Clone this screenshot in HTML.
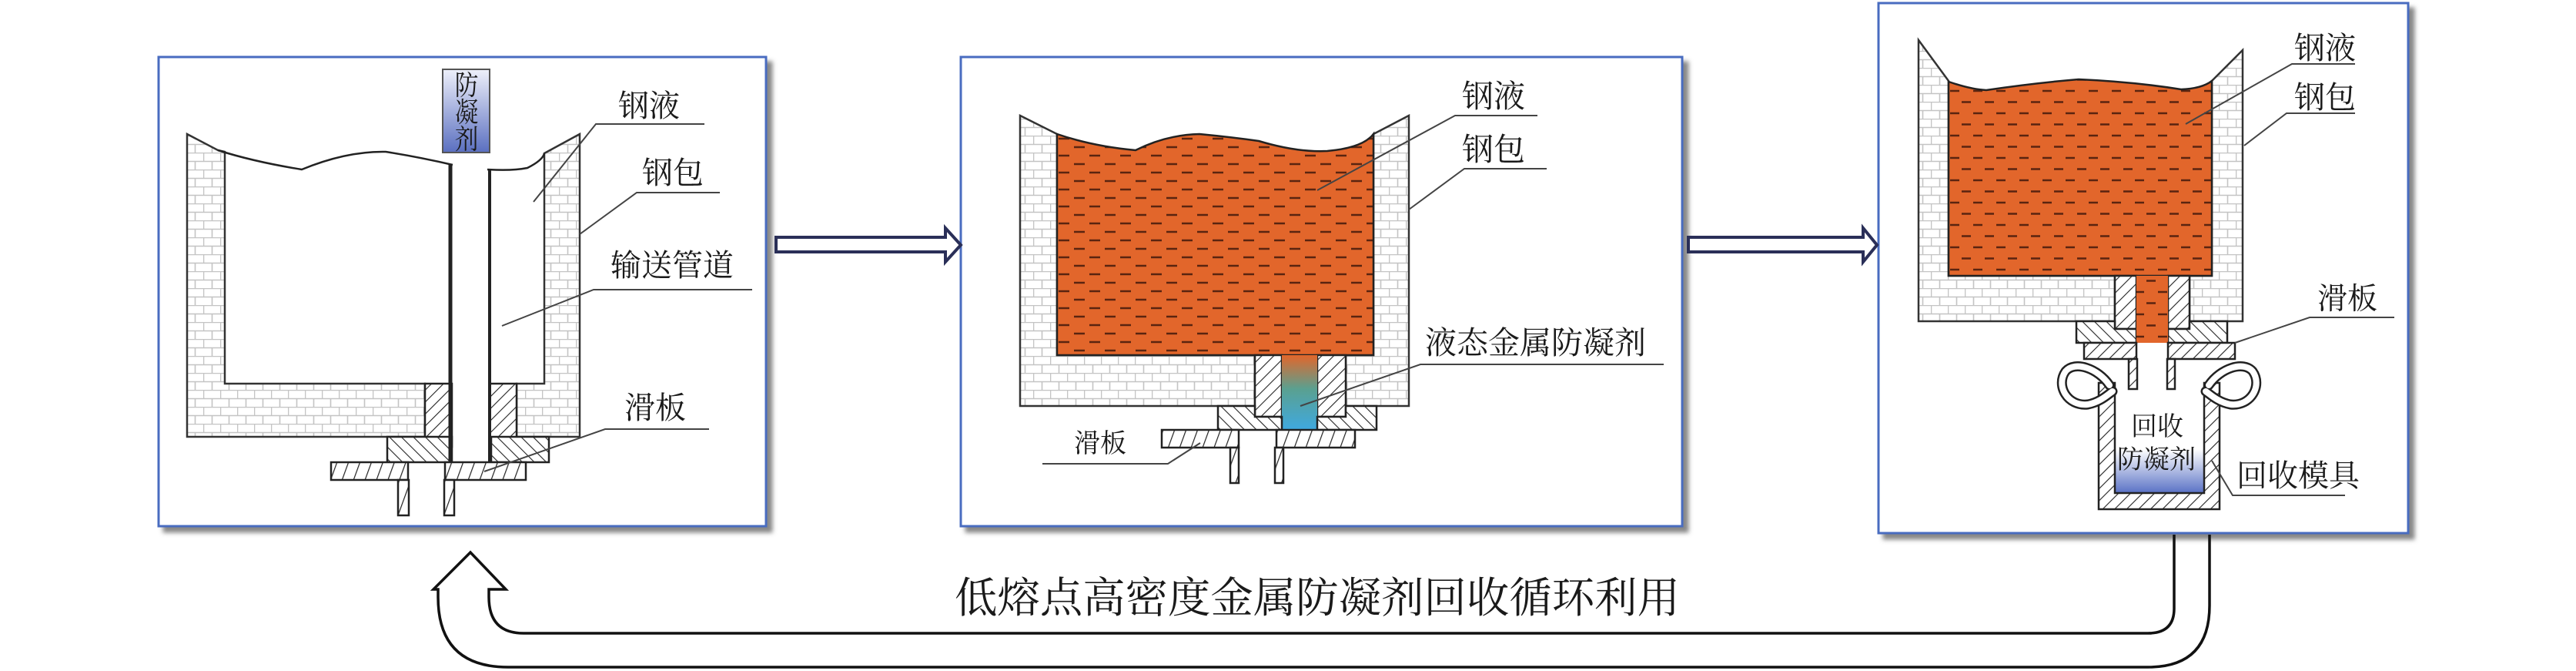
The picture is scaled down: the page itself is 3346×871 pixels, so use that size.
<!DOCTYPE html>
<html><head><meta charset="utf-8">
<style>
html,body{margin:0;padding:0;background:#fff;}
svg{display:block;}
text{font-family:"Liberation Serif","Noto Serif CJK SC","Noto Sans CJK SC",serif;fill:#1a1a1a;}
</style></head>
<body>
<svg width="3346" height="871" viewBox="0 0 3346 871" xmlns="http://www.w3.org/2000/svg">
<defs>
<pattern id="brick" patternUnits="userSpaceOnUse" width="22" height="22">
<rect width="22" height="22" fill="#fff"/>
<path d="M0,0.5H22M0,11.5H22M0.5,0V11M11.5,11V22" stroke="#c4c4c4" stroke-width="1.6" fill="none"/>
</pattern>
<pattern id="hatch" patternUnits="userSpaceOnUse" width="11" height="11" patternTransform="rotate(45)">
<rect width="11" height="11" fill="#fff"/>
<line x1="0" y1="0" x2="0" y2="11" stroke="#222" stroke-width="2.2"/>
</pattern>
<pattern id="hatch2" patternUnits="userSpaceOnUse" width="11" height="11" patternTransform="rotate(-45)">
<rect width="11" height="11" fill="#fff"/>
<line x1="0" y1="0" x2="0" y2="11" stroke="#222" stroke-width="2.2"/>
</pattern>
<pattern id="hatch3" patternUnits="userSpaceOnUse" width="14" height="14" patternTransform="rotate(20)">
<rect width="14" height="14" fill="#fff"/>
<line x1="0" y1="0" x2="0" y2="14" stroke="#222" stroke-width="2.4"/>
</pattern>
<pattern id="liq2" patternUnits="userSpaceOnUse" x="1373" y="178" width="40" height="22">
<rect width="40" height="22" fill="#e2662b"/>
<path d="M2,2H16M22,13H36" stroke="#5a2410" stroke-width="2.6"/>
</pattern>
<pattern id="liq3" patternUnits="userSpaceOnUse" x="2531" y="112" width="30" height="29">
<rect width="30" height="29" fill="#e2662b"/>
<path d="M2,6H14M17,20.5H29" stroke="#5a2410" stroke-width="2.4"/>
</pattern>
<linearGradient id="gbox" x1="0" y1="0" x2="0" y2="1">
<stop offset="0" stop-color="#eef0fa"/><stop offset="1" stop-color="#5a6fc0"/>
</linearGradient>
<linearGradient id="gchan" x1="0" y1="0" x2="0" y2="1">
<stop offset="0" stop-color="#e2662b"/><stop offset="0.45" stop-color="#5aa090"/><stop offset="1" stop-color="#3fa9e0"/>
</linearGradient>
<linearGradient id="gmold" x1="0" y1="0" x2="0" y2="1">
<stop offset="0" stop-color="#ffffff"/><stop offset="1" stop-color="#5a72c6"/>
</linearGradient>
<filter id="sh" x="-5%" y="-5%" width="115%" height="115%">
<feDropShadow dx="7" dy="7" stdDeviation="3" flood-color="#555" flood-opacity="0.7"/>
</filter>
</defs>

<!-- Panels -->
<rect x="206" y="74" width="789" height="609" fill="#fff" stroke="#4a6cc0" stroke-width="3" filter="url(#sh)"/>
<rect x="1248" y="74" width="937" height="609" fill="#fff" stroke="#4a6cc0" stroke-width="3" filter="url(#sh)"/>
<rect x="2440" y="4" width="688" height="688" fill="#fff" stroke="#4a6cc0" stroke-width="3" filter="url(#sh)"/>

<!-- Arrows between panels -->
<g fill="#fff" stroke="#2a2f58" stroke-width="4" stroke-linejoin="miter">
<path d="M1008,308 H1228 V296 L1248,318 L1228,340 V327 H1008 Z"/>
<path d="M2193,308 H2420 V296 L2438,318 L2420,340 V327 H2193 Z"/>
</g>

<!-- ===== Panel 1 ===== -->
<path d="M243,174 L283,195 L292,197 L292,498 L552,498 L552,567 L243,567 Z" fill="url(#brick)" stroke="#333" stroke-width="2.5"/>
<path d="M753,174 L707,199 L707,498 L671,498 L671,567 L753,567 Z" fill="url(#brick)" stroke="#333" stroke-width="2.5"/>
<path d="M283,195 Q330,210 392,220 Q450,196 501,197 Q545,204 588,214" fill="none" stroke="#222" stroke-width="2.5"/>
<path d="M633,220 Q665,222 685,218 Q705,208 707,199" fill="none" stroke="#222" stroke-width="2.5"/>
<rect x="552" y="498" width="35" height="82" fill="url(#hatch)" stroke="#222" stroke-width="2.5"/>
<rect x="636" y="498" width="35" height="82" fill="url(#hatch)" stroke="#222" stroke-width="2.5"/>
<path d="M503,567 H587 V600 H503 Z M638,567 H713 V600 H638 Z" fill="url(#hatch2)" stroke="#222" stroke-width="2.5"/>
<path d="M430,600 H530 V623 H430 Z M578,600 H683 V623 H578 Z" fill="url(#hatch3)" stroke="#222" stroke-width="2.5"/>
<rect x="517" y="623" width="14" height="46" fill="url(#hatch3)" stroke="#222" stroke-width="2.5"/>
<rect x="577" y="623" width="13" height="46" fill="url(#hatch3)" stroke="#222" stroke-width="2.5"/>
<line x1="585" y1="214" x2="585" y2="600" stroke="#222" stroke-width="5"/>
<line x1="636" y1="220" x2="636" y2="600" stroke="#222" stroke-width="4"/>
<rect x="575" y="90" width="61" height="108" fill="url(#gbox)" stroke="#555" stroke-width="2"/>
<g transform="translate(606,0) scale(0.85,1)" text-anchor="middle"><text x="0" y="123" font-size="36">防</text><text x="0" y="158" font-size="36">凝</text><text x="0" y="193" font-size="36">剂</text></g>
<g fill="none" stroke="#444" stroke-width="2">
<path d="M915,161 H774 L693,262"/>
<path d="M935,250 H827 L753,304"/>
<path d="M977,376 H771 L652,423"/>
<path d="M921,557 H786 L629,612"/>
</g>
<text x="803" y="151" font-size="40">钢液</text>
<text x="834" y="238" font-size="40">钢包</text>
<text x="793" y="358" font-size="40">输送管道</text>
<text x="811" y="543" font-size="40">滑板</text>

<!-- ===== Panel 2 ===== -->
<path d="M1325,150 L1373,174 L1373,461 L1630,461 L1630,527 L1325,527 Z" fill="url(#brick)" stroke="#333" stroke-width="2.5"/>
<path d="M1830,150 L1784,174 L1784,461 L1748,461 L1748,527 L1830,527 Z" fill="url(#brick)" stroke="#333" stroke-width="2.5"/>
<path d="M1373,174 Q1420,190 1475,195 Q1515,175 1558,174 Q1600,178 1635,183 Q1685,198 1724,196 Q1770,192 1784,174 L1784,461 L1373,461 Z" fill="url(#liq2)" stroke="#222" stroke-width="2.5"/>
<rect x="1630" y="461" width="35" height="80" fill="url(#hatch)" stroke="#222" stroke-width="2.5"/>
<rect x="1711" y="461" width="37" height="80" fill="url(#hatch)" stroke="#222" stroke-width="2.5"/>
<rect x="1665" y="461" width="46" height="97" fill="url(#gchan)"/>
<path d="M1582,527 H1630 V541 H1665 V558 H1582 Z M1711,541 H1748 V527 H1788 V558 H1711 Z" fill="url(#hatch2)" stroke="#222" stroke-width="2.5"/>
<path d="M1509,558 H1609 V581 H1509 Z M1658,558 H1760 V581 H1658 Z" fill="url(#hatch3)" stroke="#222" stroke-width="2.5"/>
<rect x="1598" y="581" width="11" height="46" fill="url(#hatch3)" stroke="#222" stroke-width="2.5"/>
<rect x="1656" y="581" width="11" height="46" fill="url(#hatch3)" stroke="#222" stroke-width="2.5"/>
<g fill="none" stroke="#444" stroke-width="2">
<path d="M1997,150 H1890 L1711,247"/>
<path d="M2009,219 H1902 L1830,272"/>
<path d="M2161,473 H1845 L1689,527"/>
<path d="M1354,602 H1517 L1559,575"/>
</g>
<text x="1899" y="139" font-size="41">钢液</text>
<text x="1899" y="208" font-size="41">钢包</text>
<text x="1851" y="459" font-size="41">液态金属防凝剂</text>
<text x="1395" y="587" font-size="34">滑板</text>

<!-- ===== Panel 3 ===== -->
<path d="M2492,52 L2531,105 L2531,358 L2747,358 L2747,417 L2492,417 Z" fill="url(#brick)" stroke="#333" stroke-width="2.5"/>
<path d="M2913,65 L2873,105 L2873,358 L2844,358 L2844,417 L2913,417 Z" fill="url(#brick)" stroke="#333" stroke-width="2.5"/>
<path d="M2531,106 Q2560,116 2580,117 Q2640,108 2700,103 Q2770,106 2833,116 Q2860,115 2873,105 L2873,358 L2531,358 Z" fill="url(#liq3)" stroke="#222" stroke-width="2.5"/>
<rect x="2747" y="358" width="28" height="69" fill="url(#hatch)" stroke="#222" stroke-width="2.5"/>
<rect x="2816" y="358" width="28" height="69" fill="url(#hatch)" stroke="#222" stroke-width="2.5"/>
<path d="M2697,417 H2747 V427 H2775 V445 H2697 Z M2816,427 H2844 V417 H2893 V445 H2816 Z" fill="url(#hatch2)" stroke="#222" stroke-width="2.5"/>
<rect x="2775" y="358" width="41" height="87" fill="url(#liq3)"/>
<path d="M2707,445 H2775 V466 H2707 Z M2816,445 H2903 V466 H2816 Z" fill="url(#hatch)" stroke="#222" stroke-width="2.5"/>
<rect x="2765" y="466" width="11" height="39" fill="url(#hatch)" stroke="#222" stroke-width="2.5"/>
<rect x="2815" y="466" width="10" height="39" fill="url(#hatch)" stroke="#222" stroke-width="2.5"/>
<!-- mold -->
<rect x="2747" y="583" width="116" height="57" fill="url(#gmold)"/>
<path d="M2726,497 H2747 V640 H2863 V497 H2883 V661 H2726 Z" fill="url(#hatch)" stroke="#222" stroke-width="2.5"/>
<g fill="none" stroke-linecap="round">
<path d="M2740,500 C2725,478 2695,468 2683,482 C2670,500 2685,528 2712,525 C2728,522 2738,512 2744,508" stroke="#222" stroke-width="13"/>
<path d="M2740,500 C2725,478 2695,468 2683,482 C2670,500 2685,528 2712,525 C2728,522 2738,512 2744,508" stroke="#fff" stroke-width="8"/>
<path d="M2869,500 C2884,478 2914,468 2926,482 C2939,500 2924,528 2897,525 C2881,522 2871,512 2865,508" stroke="#222" stroke-width="13"/>
<path d="M2869,500 C2884,478 2914,468 2926,482 C2939,500 2924,528 2897,525 C2881,522 2871,512 2865,508" stroke="#fff" stroke-width="8"/>
</g>
<text x="2768" y="565" font-size="34">回收</text>
<text x="2750" y="608" font-size="34">防凝剂</text>
<g fill="none" stroke="#444" stroke-width="2">
<path d="M3059,83 H2977 L2839,161"/>
<path d="M3059,147 H2970 L2915,189"/>
<path d="M3110,412 H3000 L2903,445"/>
<path d="M3046,643 H2900 L2873,598"/>
</g>
<text x="2980" y="76" font-size="40">钢液</text>
<text x="2980" y="140" font-size="40">钢包</text>
<text x="3010" y="401" font-size="39">滑板</text>
<text x="2905" y="631" font-size="40">回收模具</text>

<!-- Return loop arrow -->
<g fill="none" stroke="#111" stroke-width="3.5" stroke-linejoin="miter">
<path d="M2870,694 V786 Q2870,866 2790,866 H660 Q569,866 569,775 V765 H563 L611,717 L657,765 H635 V775 Q635,822 680,822 H2790 Q2824,822 2824,790 V694"/>
</g>
<text x="1240" y="795" font-size="55" textLength="942" lengthAdjust="spacingAndGlyphs">低熔点高密度金属防凝剂回收循环利用</text>
</svg>
</body></html>
